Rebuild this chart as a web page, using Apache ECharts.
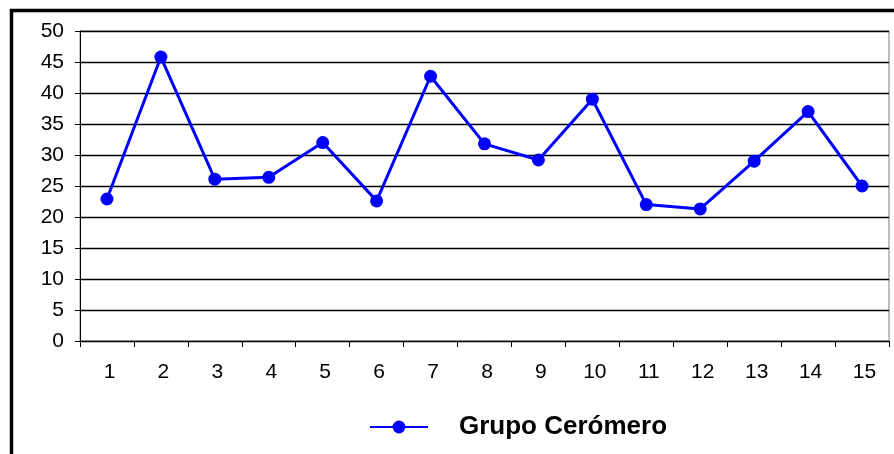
<!DOCTYPE html>
<html>
<head>
<meta charset="utf-8">
<script src="https://cdn.jsdelivr.net/npm/echarts@6/dist/echarts.min.js"></script>
<style>
  html, body { margin: 0; padding: 0; background: #fff; }
  #chart { width: 894px; height: 454px; }
</style>
</head>
<body>
<div id="chart"></div>
<script>
// Sample numbers 1..15 and the measured values for the group
const categories = ['1','2','3','4','5','6','7','8','9','10','11','12','13','14','15'];
const ceromero = [22.9, 45.8, 26.1, 26.4, 32.0, 22.6, 42.7, 31.8, 29.2, 39.0, 22.0, 21.3, 29.0, 37.0, 25.0];
const seriesName = 'Grupo Cerómero';

const chart = echarts.init(document.getElementById('chart'), null, { renderer: 'canvas' });

chart.setOption({
  animation: false,
  backgroundColor: '#fff',
  textStyle: { fontFamily: 'Liberation Sans, Arial, sans-serif' },
  graphic: [
    {
      type: 'rect',
      shape: { x: 11.5, y: 10.5, width: 1000, height: 1000 },
      style: { fill: 'none', stroke: '#000', lineWidth: 3.5 },
      silent: true
    }
  ],
  grid: { left: 80, right: 5, top: 31, bottom: 113, show: true, borderColor: '#808080', borderWidth: 1, backgroundColor: 'transparent' },
  legend: {
    top: 409,
    left: 364,
    itemWidth: 58,
    itemHeight: 16,
    data: [seriesName],
    textStyle: { fontSize: 26, fontWeight: 'bold', color: '#000', padding: [0, 0, 0, 26], fontFamily: 'Liberation Sans, Arial, sans-serif' }
  },
  xAxis: {
    type: 'category',
    data: categories,
    boundaryGap: true,
    axisLine: { lineStyle: { color: '#000', width: 1 } },
    axisTick: { show: true, length: 6, lineStyle: { color: '#000' } },
    axisLabel: { fontSize: 21, color: '#000', margin: 21, padding: [0, 0, 0, 5] },
    splitLine: { show: false }
  },
  yAxis: {
    type: 'value',
    min: 0,
    max: 50,
    interval: 5,
    axisLine: { show: true, lineStyle: { color: '#000', width: 1 } },
    axisTick: { show: true, length: 5, lineStyle: { color: '#000' } },
    axisLabel: { fontSize: 21, color: '#000', margin: 16 },
    splitLine: { show: true, lineStyle: { color: '#000', width: 1.3 } }
  },
  series: [
    {
      name: seriesName,
      type: 'line',
      data: ceromero,
      symbol: 'circle',
      symbolSize: 13,
      lineStyle: { color: '#0000FF', width: 3 },
      itemStyle: { color: '#0000FF' }
    }
  ]
});
</script>
</body>
</html>
